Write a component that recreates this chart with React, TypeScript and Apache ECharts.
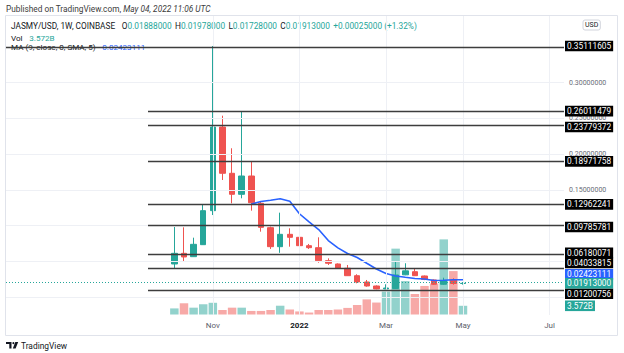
import React, { useEffect, useRef } from "react";
import * as echarts from "echarts";

// ---------- data ----------
const firstCategory = "2021-06-07";
const categoryCount = 58;
const firstCandleWeek = "2021-10-04";

const opens = [0.0462, 0.0611, 0.0564, 0.0732, 0.1208, 0.2378, 0.1731, 0.1437, 0.1693, 0.1311, 0.097, 0.0704, 0.0877, 0.0835, 0.0718, 0.069, 0.0508, 0.0462, 0.0402, 0.0298, 0.021, 0.0154, 0.0113, 0.0118, 0.031, 0.0354, 0.0294, 0.0238, 0.0178, 0.0238, 0.01888];
const closes = [0.0611, 0.056, 0.0737, 0.1208, 0.2378, 0.1731, 0.1437, 0.1693, 0.1319, 0.0975, 0.0704, 0.0877, 0.0835, 0.0718, 0.069, 0.0508, 0.0472, 0.0403, 0.0298, 0.021, 0.0154, 0.0113, 0.0126, 0.0308, 0.0366, 0.0298, 0.0245, 0.0178, 0.0228, 0.01888, 0.01913];
const highs = [0.0979, 0.0975, 0.083, 0.1296, 0.35111605, 0.2537, 0.2081, 0.26011479, 0.18971758, 0.133, 0.0985, 0.118, 0.0961, 0.0923, 0.0742, 0.0835, 0.0541, 0.047, 0.0448, 0.0318, 0.0238, 0.0162, 0.0178, 0.0494, 0.0472, 0.0402, 0.03, 0.0245, 0.027, 0.0262, 0.01978];
const lows = [0.0406, 0.049, 0.056, 0.0728, 0.1147, 0.1637, 0.1311, 0.1381, 0.1208, 0.0914, 0.0672, 0.0618, 0.0704, 0.0695, 0.0672, 0.048, 0.0448, 0.0398, 0.0294, 0.0192, 0.0144, 0.0108, 0.011, 0.0112, 0.0305, 0.0295, 0.0236, 0.017, 0.017, 0.0172, 0.01728];
const volumesB = [2.5, 4.6, 2.8, 4.2, 4.8, 1.85, 2.8, 2.8, 1.45, 1.45, 1.85, 3.6, 2.05, 1.25, 0.8, 1.85, 1.85, 2.05, 2.7, 3.9, 6.2, 4.9, 9.4, 27, 13.7, 8.4, 11.7, 12.7, 30.8, 17.8, 3.572];
const maStartIndex = 8;
const maValues = [0.1301, 0.1336, 0.1353, 0.1375, 0.134, 0.1165, 0.105, 0.0944, 0.079, 0.0688, 0.0609, 0.0553, 0.0472, 0.0392, 0.0329, 0.0294, 0.0276, 0.0259, 0.0252, 0.0231, 0.0234, 0.0241, 0.02423111];

const levels = [0.35111605, 0.26011479, 0.23779372, 0.18971758, 0.12962241, 0.09785781, 0.06180071, 0.04033815, 0.01200756];
const fullWidthLevels = [0.35111605];
const gridValues = [0, 0.05, 0.1, 0.15, 0.2, 0.25, 0.3, 0.35];
const priceTickLabels = [0.15, 0.2, 0.25, 0.3];
const monthLabels: Record<string, string> = {
  "2021-11-01": "Nov",
  "2022-01-03": "2022",
  "2022-03-07": "Mar",
  "2022-05-02": "May",
  "2022-07-04": "Jul",
};
const lastClose = 0.01913;
const lastMA = 0.02423111;
const lastVolume = 3.572;

// ---------- helpers ----------
function weekList(start: string, count: number) {
  const out: string[] = [];
  const d = new Date(start + "T00:00:00Z");
  for (let i = 0; i < count; i++) {
    out.push(d.toISOString().slice(0, 10));
    d.setUTCDate(d.getUTCDate() + 7);
  }
  return out;
}

const UP = "#26a69a";
const DOWN = "#ef5350";
const FONT = "Roboto, 'Noto Sans', sans-serif";

export default function App() {
  const ref = useRef<HTMLDivElement>(null);
  useEffect(() => {
    if (!ref.current) return;
    const chart = echarts.init(ref.current, undefined, { renderer: "svg" });
    const categories = weekList(firstCategory, categoryCount);
    const off = categories.indexOf(firstCandleWeek);

    const candleData: any[] = categories.map(() => "-");
    const volData: any[] = categories.map(() => "-");
    const maData: any[] = categories.map(() => "-");
    opens.forEach((o, i) => {
      candleData[off + i] = [o, closes[i], lows[i], highs[i]];
      volData[off + i] = {
        value: volumesB[i],
        itemStyle: { color: closes[i] >= o ? "rgba(38,166,154,0.5)" : "rgba(239,83,80,0.5)" },
      };
    });
    maValues.forEach((v, i) => {
      maData[off + maStartIndex + i] = v;
    });

    const pMin = -0.0252;
    const pMax = 0.3932;

    const hidden = {
      axisLine: { show: false },
      axisTick: { show: false },
      axisLabel: { show: false },
      splitLine: { show: false },
    };

    const boxLabel = (
      gridIndex: number,
      min: number,
      max: number,
      value: number,
      text: string,
      bg: string,
      valign: string
    ) => ({
      type: "value",
      gridIndex,
      min,
      max,
      position: "right",
      z: 10,
      axisLine: { show: false },
      axisTick: { show: false },
      splitLine: { show: false },
      axisLabel: {
        customValues: [value],
        formatter: () => text,
        color: "#ffffff",
        backgroundColor: bg,
        fontFamily: FONT,
        fontSize: 8.3,
        lineHeight: 8.6,
        padding: [1, 2, 1, 2],
        margin: 1,
        verticalAlign: valign,
        align: "left",
      },
    });

    const levelAlign = (v: number) =>
      v === 0.04033815 ? "bottom" : v === 0.01200756 ? "top" : "middle";

    const option: any = {
      animation: false,
      grid: [
        { left: 6, right: 60, top: 16, height: 299 },
        { left: 148, right: 60, top: 16, height: 299 },
        { left: 6, right: 60, top: 214.5, height: 100 },
      ],
      xAxis: [
        { type: "category", gridIndex: 0, data: categories, ...hidden },
        { type: "value", gridIndex: 1, min: 0, max: 1, ...hidden },
        {
          type: "category",
          gridIndex: 2,
          data: categories,
          axisLine: { show: false },
          axisTick: { show: false },
          splitLine: { show: false },
          axisLabel: {
            interval: (_i: number, v: string) => monthLabels[v] != null,
            formatter: (v: string) =>
              monthLabels[v] === "2022" ? "{y|2022}" : monthLabels[v] || "",
            color: "#5d606b",
            fontFamily: FONT,
            fontSize: 8,
            margin: 7,
            rich: { y: { color: "#131722", fontFamily: FONT, fontSize: 8, fontWeight: "bold" } },
          },
        },
      ],
      yAxis: [
        {
          type: "value",
          gridIndex: 0,
          min: pMin,
          max: pMax,
          position: "right",
          z: 1,
          axisLine: { show: false },
          axisTick: { show: false },
          splitLine: { show: false },
          axisLabel: {
            customValues: priceTickLabels,
            formatter: (v: number) => v.toFixed(8),
            color: "#6a6d78",
            fontFamily: FONT,
            fontSize: 7,
            lineHeight: 7,
            margin: 5,
            align: "left",
          },
        },
        { type: "value", gridIndex: 1, min: pMin, max: pMax, ...hidden },
        { type: "value", gridIndex: 2, min: 0, max: 41, ...hidden },
        ...levels.map((v) =>
          boxLabel(0, pMin, pMax, v, v.toFixed(8), "#000000", levelAlign(v))
        ),
        boxLabel(0, pMin, pMax, lastMA, lastMA.toFixed(8), "#2962ff", "bottom"),
        boxLabel(0, pMin, pMax, lastClose, lastClose.toFixed(8), UP, "middle"),
        boxLabel(2, 0, 41, lastVolume, lastVolume.toFixed(3) + "B", UP, "middle"),
      ],
      series: [
        {
          type: "line",
          xAxisIndex: 0,
          yAxisIndex: 0,
          data: [],
          z: 0,
          silent: true,
          markLine: {
            silent: true,
            symbol: ["none", "none"],
            label: { show: false },
            lineStyle: { color: "#eef0f5", width: 1, type: "solid" },
            data: [
              ...gridValues.map((v) => ({ yAxis: v })),
              ...Object.keys(monthLabels).map((d) => ({ xAxis: d })),
            ],
          },
        },
        {
          type: "bar",
          xAxisIndex: 2,
          yAxisIndex: 2,
          data: volData,
          barWidth: "88%",
          z: 1,
          silent: true,
        },
        {
          type: "line",
          xAxisIndex: 0,
          yAxisIndex: 0,
          data: [],
          z: 2,
          silent: true,
          markLine: {
            silent: true,
            symbol: ["none", "none"],
            label: { show: false },
            data: [
              { yAxis: lastClose, lineStyle: { color: UP, width: 1, type: [1, 2] } },
              ...fullWidthLevels.map((v) => ({
                yAxis: v,
                lineStyle: { color: "#3d3d3d", width: 1.3, type: "solid" },
              })),
            ],
          },
        },
        {
          type: "line",
          xAxisIndex: 1,
          yAxisIndex: 1,
          data: [],
          z: 2,
          silent: true,
          markLine: {
            silent: true,
            symbol: ["none", "none"],
            label: { show: false },
            lineStyle: { color: "#3d3d3d", width: 1.3, type: "solid" },
            data: levels
              .filter((v) => !fullWidthLevels.includes(v))
              .map((v) => ({ yAxis: v })),
          },
        },
        {
          type: "candlestick",
          xAxisIndex: 0,
          yAxisIndex: 0,
          data: candleData,
          barWidth: 6,
          z: 3,
          silent: true,
          itemStyle: {
            color: UP,
            color0: DOWN,
            borderColor: UP,
            borderColor0: DOWN,
            borderWidth: 1,
          },
        },
        {
          type: "line",
          xAxisIndex: 0,
          yAxisIndex: 0,
          data: maData,
          z: 4,
          silent: true,
          symbol: "none",
          lineStyle: { color: "#2962ff", width: 1.6 },
        },
      ],
      graphic: [
        {
          type: "rect",
          shape: { x: 5.5, y: 15.5, width: 612, height: 320 },
          style: { fill: "none", stroke: "#e0e3eb", lineWidth: 1 },
          silent: true,
        },
        {
          type: "text",
          x: 6,
          y: 9,
          style: {
            text: "{a|Published on TradingView.com, }{b|May 04, 2022 11:06 UTC}",
            verticalAlign: "middle",
            rich: {
              a: { fontFamily: FONT, fontSize: 8.3, fill: "#3c3c3c" },
              b: { fontFamily: FONT, fontSize: 8.3, fill: "#3c3c3c", fontStyle: "italic" },
            },
          },
        },
        {
          type: "text",
          x: 11,
          y: 26,
          style: {
            text:
              "{d|JASMY/USD, 1W, COINBASE}  {d|O}{t|0.01888000} {d|H}{t|0.01978000} {d|L}{t|0.01728000} {d|C}{t|0.01913000} {t|+0.00025000 (+1.32%)}",
            verticalAlign: "middle",
            rich: {
              d: { fontFamily: FONT, fontSize: 8.3, fill: "#131722" },
              t: { fontFamily: FONT, fontSize: 8.3, fill: UP },
            },
          },
        },
        {
          type: "text",
          x: 11,
          y: 37.5,
          style: {
            text: "{d|Vol}  {t|3.572B}",
            verticalAlign: "middle",
            rich: {
              d: { fontFamily: FONT, fontSize: 8.1, fill: "#131722" },
              t: { fontFamily: FONT, fontSize: 8.1, fill: UP },
            },
          },
        },
        {
          type: "text",
          x: 11,
          y: 46.5,
          style: {
            text: "{d|MA (9, close, 0, SMA, 5)}  {t|0.02423111}",
            verticalAlign: "middle",
            rich: {
              d: { fontFamily: FONT, fontSize: 8.1, fill: "#131722" },
              t: { fontFamily: FONT, fontSize: 8.1, fill: "#2962ff" },
            },
          },
        },
        {
          type: "text",
          x: 583,
          y: 25,
          style: {
            text: "USD",
            verticalAlign: "middle",
            fontFamily: FONT,
            fontSize: 7,
            fill: "#131722",
            borderColor: "#d1d4dc",
            borderWidth: 1,
            borderRadius: 2,
            padding: [2, 2, 1, 2],
          },
        },
        {
          type: "polygon",
          shape: { points: [[6, 342], [11.5, 342], [11.5, 348.5], [9.3, 348.5], [9.3, 344], [6, 344]] },
          style: { fill: "#131722" },
        },
        {
          type: "circle",
          shape: { cx: 13.4, cy: 343.1, r: 1.1 },
          style: { fill: "#131722" },
        },
        {
          type: "polygon",
          shape: { points: [[15.3, 342], [18.2, 342], [15.6, 348.5], [12.8, 348.5]] },
          style: { fill: "#131722" },
        },
        {
          type: "text",
          x: 21,
          y: 345.5,
          style: {
            text: "TradingView",
            verticalAlign: "middle",
            fontFamily: FONT,
            fontSize: 8.4,
            fill: "#131722",
          },
        },
      ],
    };
    chart.setOption(option);
    return () => chart.dispose();
  }, []);
  return <div ref={ref} style={{ width: 624, height: 353, position: "absolute", left: 0, top: 0 }} />;
}
